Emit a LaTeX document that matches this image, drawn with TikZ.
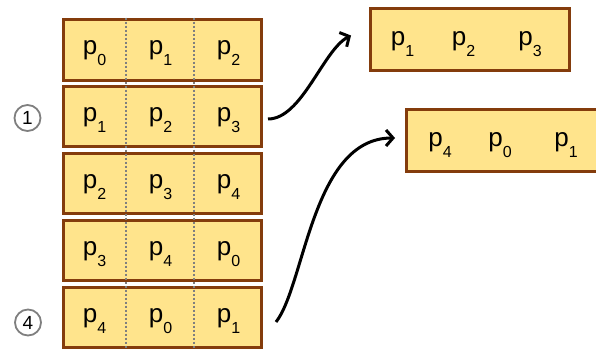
\documentclass[tikz,border=0pt]{standalone}
\usepackage{fontspec}
\setmainfont{Liberation Sans}
\usetikzlibrary{arrows.meta}
\definecolor{cellfill}{HTML}{FFE48C}
\definecolor{cellline}{HTML}{843C0C}
\definecolor{circgray}{HTML}{7F7F7F}
\newcommand\psub[1]{p\raisebox{-11pt}{\fontsize{16}{16}\selectfont #1}}
\tikzset{
  rowbox/.style={draw=cellline, fill=cellfill, line width=3pt, minimum width=198pt, minimum height=60.5pt, inner sep=0pt},
  outbox/.style={draw=cellline, fill=cellfill, line width=3pt, minimum width=199pt, minimum height=61.5pt, inner sep=0pt},
  lbl/.style={anchor=base, inner sep=0pt, font=\fontsize{26}{26}\selectfont},
  divider/.style={draw=circgray, line width=2pt, dash pattern=on 2pt off 2pt},
  stepnum/.style={circle, draw=circgray, line width=1.8pt, minimum size=26pt, inner sep=0pt, font=\fontsize{19}{19}\selectfont},
  flow/.style={draw=black, line width=3pt, -{Straight Barb[length=7pt,width=16pt,line width=3pt]}}
}
\begin{document}
\begin{tikzpicture}[x=1pt,y=-1pt]
\useasboundingbox (0,0) rectangle (596,350);
% left stack of rows
\foreach \i/\a/\b/\c in {1/0/1/2, 2/1/2/3, 3/2/3/4, 4/3/4/0, 5/4/0/1}{
  \pgfmathsetmacro{\cy}{49.8+66.9*(\i-1)}
  \node[rowbox] (r\i) at (162.5,\cy) {};
  \node[lbl] (c\i a) at (94.5,\cy+5) {\psub{\a}};
  \node[lbl] (c\i b) at (160.5,\cy+5) {\psub{\b}};
  \node[lbl] (c\i c) at (228.5,\cy+5) {\psub{\c}};
}
% dotted dividers
\coordinate (d1t) at (126,17.7);
\coordinate (d1b) at (126,349.5);
\coordinate (d2t) at (194,17.7);
\coordinate (d2b) at (194,349.5);
\draw[divider] (d1t) -- (d1b);
\draw[divider] (d2t) -- (d2b);
% step markers
\node[stepnum] (s1) at (27.5,118) {1};
\node[stepnum] (s4) at (28,322.5) {4};
% output boxes
\node[outbox] (oa) at (470,39.5) {};
\node[lbl] (oa1) at (402.5,46) {\psub{1}};
\node[lbl] (oa2) at (463.5,46) {\psub{2}};
\node[lbl] (oa3) at (530,46) {\psub{3}};
\node[outbox, minimum width=200pt] (ob) at (506.5,140.5) {};
\node[lbl] (ob1) at (440,146.5) {\psub{4}};
\node[lbl] (ob2) at (500,146.5) {\psub{0}};
\node[lbl] (ob3) at (566,146.5) {\psub{1}};
% arrows
\coordinate (a1s) at (268,119);
\coordinate (a1e) at (351,35.5);
\coordinate (a2s) at (276,322);
\coordinate (a2e) at (395,138);
\draw[flow] (a1s) .. controls (302,119) and (323,50) .. (a1e);
\draw[flow] (a2s) .. controls (305,285) and (312,138) .. (a2e);
\end{tikzpicture}
\end{document}
